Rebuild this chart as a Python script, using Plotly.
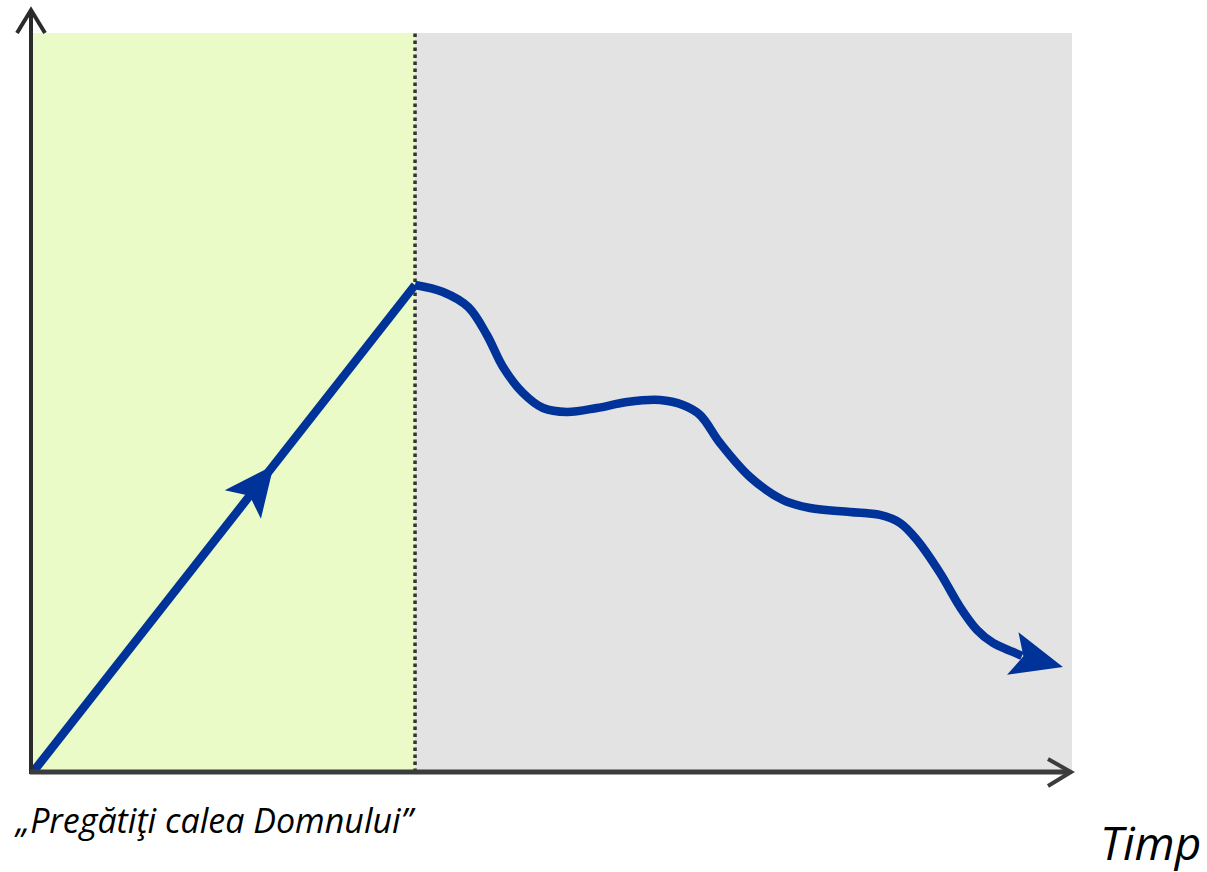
import math
import plotly.graph_objects as go

# ---------------- data ----------------
# rising phase (straight) : start -> peak
rise_x = [0.0, 36.77]
rise_y = [0.0, 65.90]

# falling phase (wavy decline after the peak)
fall_x = [36.77, 39.46, 41.90, 43.70, 45.24, 47.16, 49.09, 51.40, 54.28, 57.17,
          60.35, 62.56, 64.20, 66.12, 69.01, 72.18, 74.78, 78.63, 81.52, 83.45,
          85.08, 87.30, 89.22, 90.86, 92.40, 94.32, 95.19]
fall_y = [65.90, 64.95, 62.90, 59.10, 54.80, 51.29, 49.26, 48.72, 49.26, 50.07,
          50.34, 49.66, 48.31, 44.52, 39.92, 36.81, 35.72, 35.18, 34.78, 33.69,
          31.39, 26.93, 22.33, 19.22, 17.46, 16.24, 15.70]

end_tip = [99.13, 14.21]     # tip of the final arrowhead
mid_arrow_frac = 0.63        # where the arrow on the rising line points (fraction of segment)

divider_x = 36.77            # boundary between the two phases
x_range = [0, 100]
y_range = [0, 100]

label_left = "„Pregătiţi calea Domnului”"
label_right = "Timp"

# ---------------- layout geometry ----------------
W, H = 1207, 872
ML, MR, MT, MB = 33, 135, 33, 100
PW, PH = W - ML - MR, H - MT - MB


def px(xp):
    return (xp - ML) / PW


def py(yp):
    return (H - MB - yp) / PH


def d2p(x, y):
    """data -> pixel"""
    return (ML + (x - x_range[0]) / (x_range[1] - x_range[0]) * PW,
            MT + PH - (y - y_range[0]) / (y_range[1] - y_range[0]) * PH)


def p2d(X, Y):
    """pixel -> data"""
    return (x_range[0] + (X - ML) / PW * (x_range[1] - x_range[0]),
            y_range[0] + (MT + PH - Y) / PH * (y_range[1] - y_range[0]))


def arrow_path(tip, from_pt, length=48, half=22, notch=11):
    tx, ty = d2p(*tip)
    fx, fy = d2p(*from_pt)
    dx, dy = tx - fx, ty - fy
    n = math.hypot(dx, dy)
    ux, uy = dx / n, dy / n
    vx, vy = -uy, ux
    bx, by = tx - length * ux, ty - length * uy
    nx_, ny_ = tx - (length - notch) * ux, ty - (length - notch) * uy
    pts = [(tx, ty), (bx + half * vx, by + half * vy), (nx_, ny_), (bx - half * vx, by - half * vy)]
    pts = [p2d(*p) for p in pts]
    return "M " + " L ".join(f"{a:.4f},{b:.4f}" for a, b in pts) + " Z"


BLUE = "#003399"
AXIS = "#2b2b2b"

fig = go.Figure()

fig.add_trace(go.Scatter(x=rise_x, y=rise_y, mode="lines",
                         line=dict(color=BLUE, width=8.5), hoverinfo="skip"))
fig.add_trace(go.Scatter(x=fall_x, y=fall_y, mode="lines",
                         line=dict(color=BLUE, width=8.5, shape="spline", smoothing=1.0),
                         hoverinfo="skip"))

mid_tip = (rise_x[0] + mid_arrow_frac * (rise_x[1] - rise_x[0]),
           rise_y[0] + mid_arrow_frac * (rise_y[1] - rise_y[0]))

shapes = [
    dict(type="rect", xref="x", yref="y", x0=x_range[0], x1=divider_x, y0=y_range[0], y1=y_range[1],
         fillcolor="#EBFBC8", line=dict(width=0), layer="below"),
    dict(type="rect", xref="x", yref="y", x0=divider_x, x1=x_range[1], y0=y_range[0], y1=y_range[1],
         fillcolor="#E3E3E3", line=dict(width=0), layer="below"),
    dict(type="line", xref="x", yref="y", x0=divider_x, x1=divider_x, y0=y_range[0], y1=y_range[1],
         line=dict(color="#333333", width=3.5, dash="dot"), layer="below"),
    # arrowheads
    dict(type="path", xref="x", yref="y", path=arrow_path(mid_tip, (rise_x[0], rise_y[0]), length=50, half=23),
         fillcolor=BLUE, line=dict(width=0)),
    dict(type="path", xref="x", yref="y", path=arrow_path(end_tip, (fall_x[-1], fall_y[-1]), length=52),
         fillcolor=BLUE, line=dict(width=0)),
    # y axis with open arrow
    dict(type="line", xref="paper", yref="paper", x0=px(31), x1=px(31), y0=py(774), y1=py(11),
         line=dict(color=AXIS, width=4)),
    dict(type="path", xref="paper", yref="paper",
         path=f"M {px(17)},{py(33)} L {px(31)},{py(10)} L {px(45)},{py(33)}",
         line=dict(color=AXIS, width=4)),
    # x axis with open arrow
    dict(type="line", xref="paper", yref="paper", x0=px(30), x1=px(1070), y0=py(772), y1=py(772),
         line=dict(color="#3c3c3c", width=5)),
    dict(type="path", xref="paper", yref="paper",
         path=f"M {px(1048)},{py(759)} L {px(1071)},{py(772)} L {px(1048)},{py(786)}",
         line=dict(color="#3c3c3c", width=4)),
]

annotations = [
    dict(text=label_left, xref="paper", yref="paper", x=px(12), y=py(820),
         xanchor="left", yanchor="middle", showarrow=False,
         font=dict(family="Open Sans", size=34, color="#000000", style="italic")),
    dict(text=label_right, xref="paper", yref="paper", x=px(1203), y=py(842),
         xanchor="right", yanchor="middle", showarrow=False,
         font=dict(family="Open Sans", size=46, color="#000000", style="italic")),
]

fig.update_layout(
    width=W, height=H,
    margin=dict(l=ML, r=MR, t=MT, b=MB, pad=0),
    paper_bgcolor="white", plot_bgcolor="white",
    showlegend=False,
    xaxis=dict(range=x_range, visible=False, fixedrange=True),
    yaxis=dict(range=y_range, visible=False, fixedrange=True),
    shapes=shapes,
    annotations=annotations,
)

fig.write_html("out.html", config=dict(displayModeBar=False),
               post_script="document.body.style.margin='0px';document.body.style.overflow='hidden';")
